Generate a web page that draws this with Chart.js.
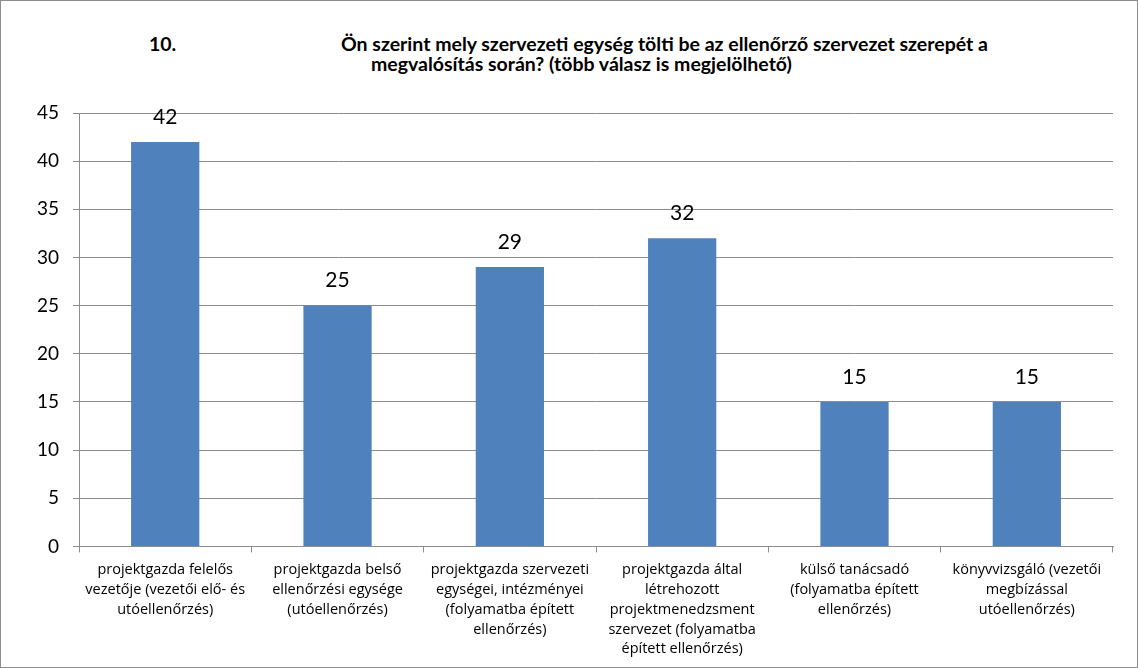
<!DOCTYPE html>
<html>
<head>
<meta charset="utf-8">
<script src="https://cdn.jsdelivr.net/npm/chart.js@4/dist/chart.umd.min.js"></script>
<style>
    html, body { margin: 0; padding: 0; background: #fff; }
    #wrap { position: relative; width: 1138px; height: 668px; box-sizing: border-box; border: 1px solid #8c8c8c; }
    #chart { position: absolute; left: 0; top: 0; }
    .title { position: absolute; font-family: Lato, "Open Sans", sans-serif; font-weight: bold; font-size: 19.5px; line-height: 20px; color: #000; white-space: nowrap; }
</style>
</head>
<body>
<div id="wrap">
    <div class="title" style="left:148px; top:33px;">10.</div>
    <div class="title" style="left:340px; top:33px;">Ön szerint mely szervezeti egység tölti be az ellenőrző szervezet szerepét a</div>
    <div class="title" style="left:370px; top:53px;">megvalósítás során? (több válasz is megjelölhető)</div>
    <canvas id="chart" width="1138" height="668"></canvas>
</div>
<script>
// data
const categories = [
    ['projektgazda felelős', 'vezetője (vezetői elő- és', 'utóellenőrzés)'],
    ['projektgazda belső', 'ellenőrzési egysége', '(utóellenőrzés)'],
    ['projektgazda szervezeti', 'egységei, intézményei', '(folyamatba épített', 'ellenőrzés)'],
    ['projektgazda által', 'létrehozott', 'projektmenedzsment', 'szervezet (folyamatba', 'épített ellenőrzés)'],
    ['külső tanácsadó', '(folyamatba épített', 'ellenőrzés)'],
    ['könyvvizsgáló (vezetői', 'megbízással', 'utóellenőrzés)']
];
const values = [42, 25, 29, 32, 15, 15];
const yTicks = [0, 5, 10, 15, 20, 25, 30, 35, 40, 45];

const FONT = 'Lato, "Open Sans", sans-serif';

// value labels above bars
const valueLabels = {
    id: 'valueLabels',
    afterDatasetsDraw(chart) {
        const ctx = chart.ctx;
        const meta = chart.getDatasetMeta(0);
        ctx.save();
        ctx.font = '21px ' + FONT;
        ctx.fillStyle = '#000';
        ctx.textAlign = 'center';
        ctx.textBaseline = 'middle';
        meta.data.forEach((bar, i) => {
            ctx.fillText(values[i], bar.x, bar.y - 25);
        });
        ctx.restore();
    }
};

new Chart(document.getElementById('chart').getContext('2d'), {
    type: 'bar',
    data: {
        labels: categories,
        datasets: [{
            data: values,
            backgroundColor: '#4f81bd',
            borderWidth: 0,
            categoryPercentage: 0.8,
            barPercentage: 0.495
        }]
    },
    options: {
        responsive: false,
        animation: false,
        layout: { padding: { left: 22, right: 26, top: 112, bottom: 2 } },
        plugins: {
            legend: { display: false },
            tooltip: { enabled: false },
            title: { display: false }
        },
        scales: {
            y: {
                min: 0,
                max: 45,
                afterBuildTicks: axis => { axis.ticks = yTicks.map(v => ({ value: v })); },
                grid: { color: '#8c8c8c', lineWidth: 1, tickLength: 6, drawTicks: true },
                border: { color: '#8c8c8c' },
                ticks: { color: '#000', font: { family: FONT, size: 19 }, padding: 14 }
            },
            x: {
                grid: { display: true, drawOnChartArea: false, color: '#8c8c8c', tickLength: 6, offset: true },
                border: { color: '#8c8c8c' },
                ticks: { color: '#000', font: { family: '"Open Sans", sans-serif', size: 14.5, lineHeight: 1.36 }, maxRotation: 0, autoSkip: false, padding: 8 }
            }
        }
    },
    plugins: [valueLabels]
});
</script>
</body>
</html>
